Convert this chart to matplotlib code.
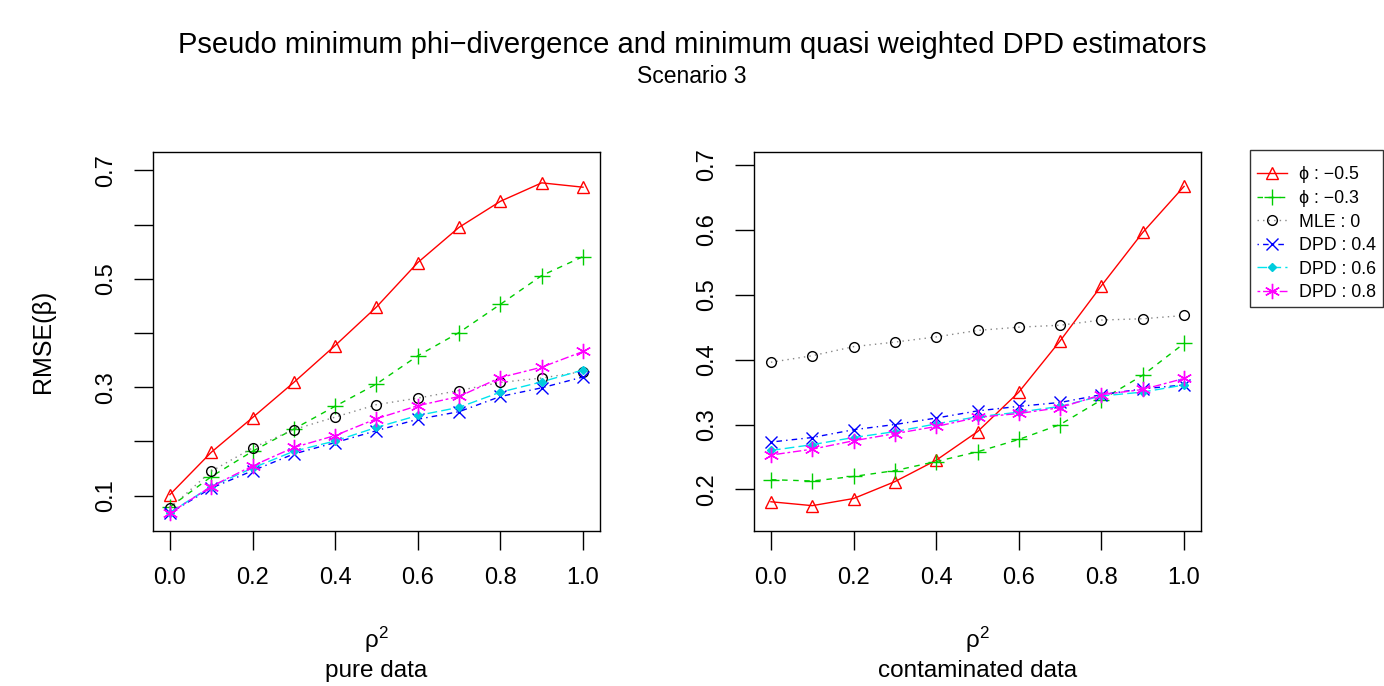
import numpy as np
import matplotlib
matplotlib.use("Agg")
import matplotlib.pyplot as plt

plt.rcParams['font.family'] = ['Liberation Sans', 'DejaVu Sans']
plt.rcParams['mathtext.fontset'] = 'custom'
plt.rcParams['mathtext.rm'] = 'Liberation Sans'
plt.rcParams['mathtext.it'] = 'Liberation Sans'

rho2 = [0.0, 0.1, 0.2, 0.3, 0.4, 0.5, 0.6, 0.7, 0.8, 0.9, 1.0]

labels = ["ϕ : −0.5", "ϕ : −0.3", "MLE : 0", "DPD : 0.4", "DPD : 0.6", "DPD : 0.8"]

# pure data
pure_phi_m05 = [0.102, 0.180, 0.244, 0.309, 0.377, 0.448, 0.530, 0.595, 0.643, 0.677, 0.669]
pure_phi_m03 = [0.079, 0.135, 0.182, 0.223, 0.265, 0.306, 0.358, 0.401, 0.453, 0.506, 0.541]
pure_mle = [0.077, 0.145, 0.188, 0.222, 0.245, 0.268, 0.280, 0.294, 0.309, 0.317, 0.329]
pure_dpd04 = [0.068, 0.114, 0.146, 0.177, 0.198, 0.220, 0.241, 0.255, 0.283, 0.299, 0.319]
pure_dpd06 = [0.069, 0.117, 0.151, 0.182, 0.201, 0.226, 0.248, 0.263, 0.291, 0.310, 0.332]
pure_dpd08 = [0.068, 0.117, 0.155, 0.189, 0.211, 0.242, 0.266, 0.283, 0.318, 0.337, 0.366]

# contaminated data
cont_phi_m05 = [0.181, 0.175, 0.186, 0.212, 0.245, 0.289, 0.350, 0.429, 0.514, 0.596, 0.667]
cont_phi_m03 = [0.215, 0.213, 0.220, 0.229, 0.243, 0.258, 0.277, 0.300, 0.338, 0.376, 0.425]
cont_mle = [0.396, 0.406, 0.420, 0.427, 0.435, 0.445, 0.450, 0.453, 0.461, 0.463, 0.468]
cont_dpd04 = [0.273, 0.280, 0.292, 0.300, 0.310, 0.321, 0.328, 0.334, 0.346, 0.355, 0.361]
cont_dpd06 = [0.260, 0.269, 0.280, 0.289, 0.301, 0.312, 0.319, 0.328, 0.344, 0.350, 0.361]
cont_dpd08 = [0.253, 0.262, 0.275, 0.286, 0.297, 0.311, 0.317, 0.326, 0.346, 0.354, 0.371]

pure = [pure_phi_m05, pure_phi_m03, pure_mle, pure_dpd04, pure_dpd06, pure_dpd08]
cont = [cont_phi_m05, cont_phi_m03, cont_mle, cont_dpd04, cont_dpd06, cont_dpd08]

# R-like styles: colour, line style, marker
styles = [
    dict(color='#FF0000', ls='-', marker='^', mfc='none', ms=9),
    dict(color='#00CD00', ls=(0, (4, 4)), marker='+', ms=11),
    dict(color='#888888', ls=(0, (1, 3)), marker='o', mfc='none', mec='black', ms=7),
    dict(color='#0000FF', ls=(0, (1, 3, 4, 3)), marker='x', ms=8),
    dict(color='#00E5EE', ls=(0, (7, 3)), marker='D', mec='#00CCDD', mfc='#00CCDD', ms=4.5),
    dict(color='#FF00FF', ls=(0, (2, 2, 6, 2)), marker=(6, 2, 0), ms=11),
]

fig = plt.figure(figsize=(13.84, 6.86), dpi=100)
ax1 = fig.add_axes([0.1105, 0.226, 0.323, 0.5525])
ax2 = fig.add_axes([0.5448, 0.226, 0.323, 0.5525])

handles = []
for ax, data in [(ax1, pure), (ax2, cont)]:
    for vals, st, lab in zip(data, styles, labels):
        h, = ax.plot(rho2, vals, lw=1.0, mew=1.0, label=lab, **st)
        if ax is ax1:
            handles.append(h)
    ax.set_xlim(-0.041, 1.041)
    ax.set_xticks([0, 0.2, 0.4, 0.6, 0.8, 1.0])
    ax.set_xticklabels(["0.0", "0.2", "0.4", "0.6", "0.8", "1.0"])
    ax.tick_params(direction='out', length=14, width=1, labelsize=17, pad=12)
    for sp in ax.spines.values():
        sp.set_linewidth(1)

ax1.set_ylim(0.035, 0.734)
ax1.set_yticks([0.1, 0.2, 0.3, 0.4, 0.5, 0.6, 0.7])
ax1.set_yticklabels(["0.1", "", "0.3", "", "0.5", "", "0.7"], rotation=90, va='center')
ax2.set_ylim(0.136, 0.720)
ax2.set_yticks([0.2, 0.3, 0.4, 0.5, 0.6, 0.7])
ax2.set_yticklabels(["0.2", "0.3", "0.4", "0.5", "0.6", "0.7"], rotation=90, va='center')

ax1.set_xlabel("$\\mathrm{\\rho}^2$\npure data", fontsize=17.5, labelpad=26, linespacing=1.3)
ax2.set_xlabel("$\\mathrm{\\rho}^2$\ncontaminated data", fontsize=17.5, labelpad=26, linespacing=1.3)
ax1.set_ylabel("RMSE(β)", fontsize=18, labelpad=29)

fig.text(0.5, 0.934, "Pseudo minimum phi\u2212divergence and minimum quasi weighted DPD estimators",
         ha='center', va='center', fontsize=21)
fig.text(0.5, 0.888, "Scenario 3", ha='center', va='center', fontsize=16.5)

# empty tiny title only adds some top padding like R's legend box
leg = fig.legend(handles=handles, loc='upper left', bbox_to_anchor=(0.9035, 0.782),
                 fontsize=12.8, frameon=True, fancybox=False, edgecolor='black',
                 handlelength=1.7, handletextpad=0.7, labelspacing=0.37,
                 borderpad=0.35, borderaxespad=0, title=' ', title_fontsize=3)
leg.get_frame().set_linewidth(1)

fig.savefig("out.png", dpi=100)
